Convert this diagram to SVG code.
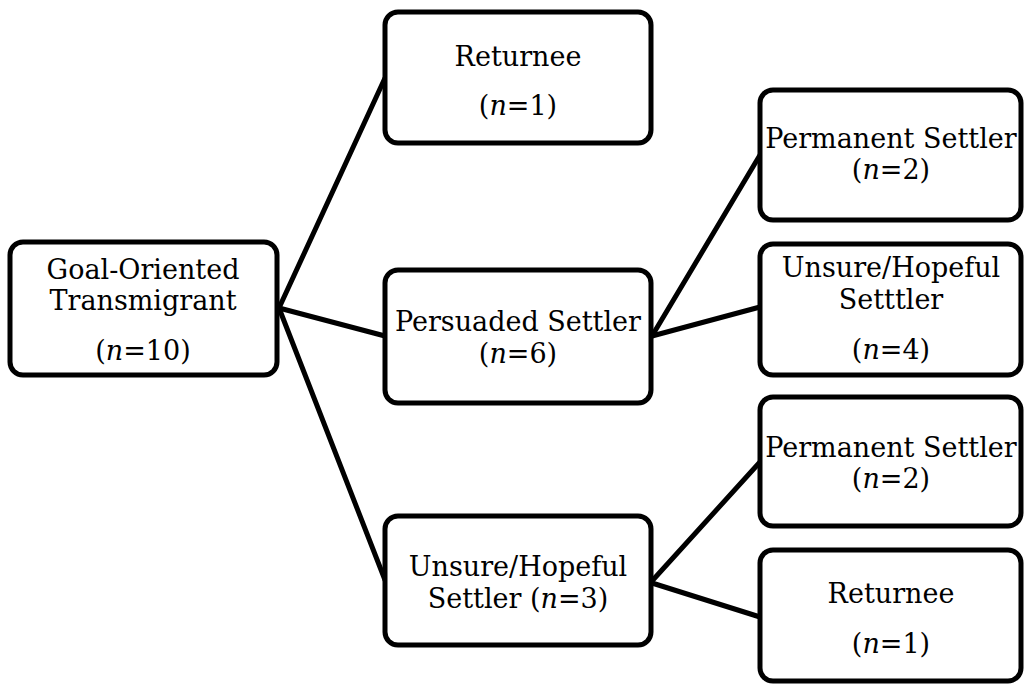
<svg xmlns="http://www.w3.org/2000/svg" width="1024" height="684" viewBox="0 0 1024 684">
<style>
.box{fill:#fff;stroke:#000;stroke-width:5}
.lbl{font-family:"DejaVu Serif","Liberation Serif",serif;font-size:27px;fill:#000;text-anchor:middle}
.it{font-style:italic}
.conn line{stroke:#000;stroke-width:5;stroke-linecap:round}
</style>
<rect width="1024" height="684" fill="#fff"/>
<g id="connectors" class="conn">
<line x1="279" y1="308" x2="385" y2="78"/>
<line x1="279" y1="308" x2="385" y2="336"/>
<line x1="279" y1="308" x2="385" y2="580"/>
<line x1="652" y1="336" x2="760" y2="155"/>
<line x1="652" y1="336" x2="760" y2="307"/>
<line x1="652" y1="581" x2="760" y2="462"/>
<line x1="652" y1="583" x2="760" y2="617"/>
</g>
<g id="goal">
<rect class="box" x="10" y="242" width="267" height="133" rx="13"/>
<text class="lbl" x="143" y="279">Goal-Oriented</text>
<text class="lbl" x="143" y="310">Transmigrant</text>
<text class="lbl" x="143" y="360">(<tspan class="it">n</tspan>=10)</text>
</g>
<g id="returnee1">
<rect class="box" x="385" y="12" width="266" height="131" rx="13"/>
<text class="lbl" x="518" y="66">Returnee</text>
<text class="lbl" x="518" y="115">(<tspan class="it">n</tspan>=1)</text>
</g>
<g id="persuaded">
<rect class="box" x="385" y="270" width="266" height="133" rx="13"/>
<text class="lbl" x="518" y="331">Persuaded Settler</text>
<text class="lbl" x="518" y="363">(<tspan class="it">n</tspan>=6)</text>
</g>
<g id="unsure3">
<rect class="box" x="385" y="516" width="266" height="129" rx="13"/>
<text class="lbl" x="518" y="576">Unsure/Hopeful</text>
<text class="lbl" x="518" y="608">Settler (<tspan class="it">n</tspan>=3)</text>
</g>
<g id="permanent1">
<rect class="box" x="760" y="90" width="261" height="130" rx="13"/>
<text class="lbl" x="891" y="148">Permanent Settler</text>
<text class="lbl" x="891" y="179">(<tspan class="it">n</tspan>=2)</text>
</g>
<g id="unsure4">
<rect class="box" x="760" y="244" width="261" height="131" rx="13"/>
<text class="lbl" x="891" y="277">Unsure/Hopeful</text>
<text class="lbl" x="891" y="309">Setttler</text>
<text class="lbl" x="891" y="359">(<tspan class="it">n</tspan>=4)</text>
</g>
<g id="permanent2">
<rect class="box" x="760" y="397" width="261" height="129" rx="13"/>
<text class="lbl" x="891" y="457">Permanent Settler</text>
<text class="lbl" x="891" y="488">(<tspan class="it">n</tspan>=2)</text>
</g>
<g id="returnee2">
<rect class="box" x="760" y="550" width="261" height="131" rx="13"/>
<text class="lbl" x="891" y="603">Returnee</text>
<text class="lbl" x="891" y="653">(<tspan class="it">n</tspan>=1)</text>
</g>
</svg>
